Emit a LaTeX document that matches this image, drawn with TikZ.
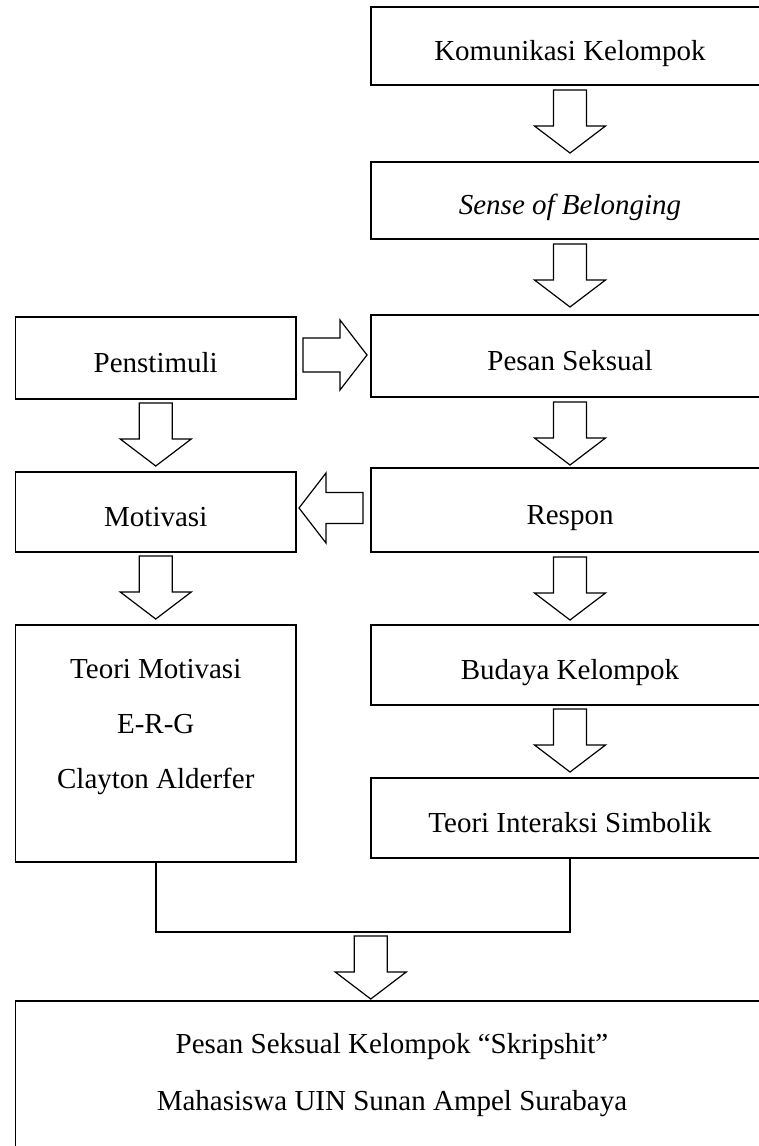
\documentclass[tikz,border=0pt]{standalone}
\usepackage{fontspec}
\setmainfont{Liberation Serif}
\usetikzlibrary{calc}
\tikzset{
  boxst/.style={draw, line width=1.6pt, inner sep=0pt, outer sep=0pt,
    font=\fontsize{29}{35}\selectfont, text height=28pt, text depth=0pt},
  rcol/.style={boxst, minimum width=398pt},
  lcol/.style={boxst, minimum width=280.5pt},
  arrline/.style={draw, line width=1.2pt, line join=miter, fill=white},
  conn/.style={draw, line width=1.5pt},
  multitxt/.style={inner sep=0pt, align=center, anchor=north},
  darr/.pic={\path[arrline] (-16.5,0) -- (16.5,0) -- (16.5,36) -- (35.5,36) -- (0,63) -- (-35.5,36) -- (-16.5,36) -- cycle;},
  rarr/.pic={\path[arrline] (0,-17) -- (37,-17) -- (37,-35) -- (64,0) -- (37,35) -- (37,17) -- (0,17) -- cycle;},
  larr/.pic={\path[arrline] (0,-15.5) -- (-37,-15.5) -- (-37,-35) -- (-64,0) -- (-37,35) -- (-37,15.5) -- (0,15.5) -- cycle;}
}
\begin{document}
\begin{tikzpicture}[x=1pt, y=-1pt]
\useasboundingbox (0,0) rectangle (759,1146);
\clip (0,0) rectangle (759,1146);
\fill[white] (0,0) rectangle (759,1146);

% right column
\node[rcol, minimum height=78pt] (k1) at (570,46) {Komunikasi Kelompok};
\node[rcol, minimum height=77pt] (k2) at (570,200.5) {\itshape Sense of Belonging};
\node[rcol, minimum height=82pt] (k3) at (570,356) {Pesan Seksual};
\node[rcol, minimum height=84pt] (k4) at (570,510) {Respon};
\node[rcol, minimum height=80pt] (k5) at (570,665) {Budaya Kelompok};
\node[rcol, minimum height=80pt] (k6) at (570,818) {Teori Interaksi Simbolik};

% left column
\node[lcol, minimum height=82pt] (L1) at (155.75,358) {Penstimuli};
\node[lcol, minimum height=80pt] (L2) at (155.75,512) {Motivasi};
\node[lcol, minimum height=237pt] (L3) at (155.75,743.5) {};
\node[multitxt, font=\fontsize{29}{55}\selectfont] (L3t) at ($(L3.north)+(0,34)$)
  {Teori Motivasi\\E-R-G\\Clayton Alderfer};

% bottom box
\node[boxst, minimum width=753pt, minimum height=179pt] (B) at (392,1090.5) {};
\node[multitxt, font=\fontsize{29}{57}\selectfont] (Bt) at ($(B.north)+(0,32)$)
  {Pesan Seksual Kelompok “Skripshit”\\Mahasiswa UIN Sunan Ampel Surabaya};

% block arrows, right column
\pic at ($(k1.south)+(0,5)$) {darr};
\pic at ($(k2.south)+(0,5)$) {darr};
\pic at ($(k3.south)+(0,5)$) {darr};
\pic at ($(k4.south)+(0,5)$) {darr};
\pic at ($(k5.south)+(0,4)$) {darr};
% block arrows, left column
\pic at ($(L1.south)+(0,4)$) {darr};
\pic at ($(L2.south)+(0,4)$) {darr};
% horizontal block arrows
\pic at ($(L1.east |- k3.west)+(7,-1)$) {rarr};
\pic at ($(k4.west)+(-8,-2)$) {larr};

% joining connector
\draw[conn] (L3.south) -- ++(0,70) coordinate (jl) -| (k6.south);
\pic at ($(jl)+(215,4)$) {darr};
\end{tikzpicture}
\end{document}
